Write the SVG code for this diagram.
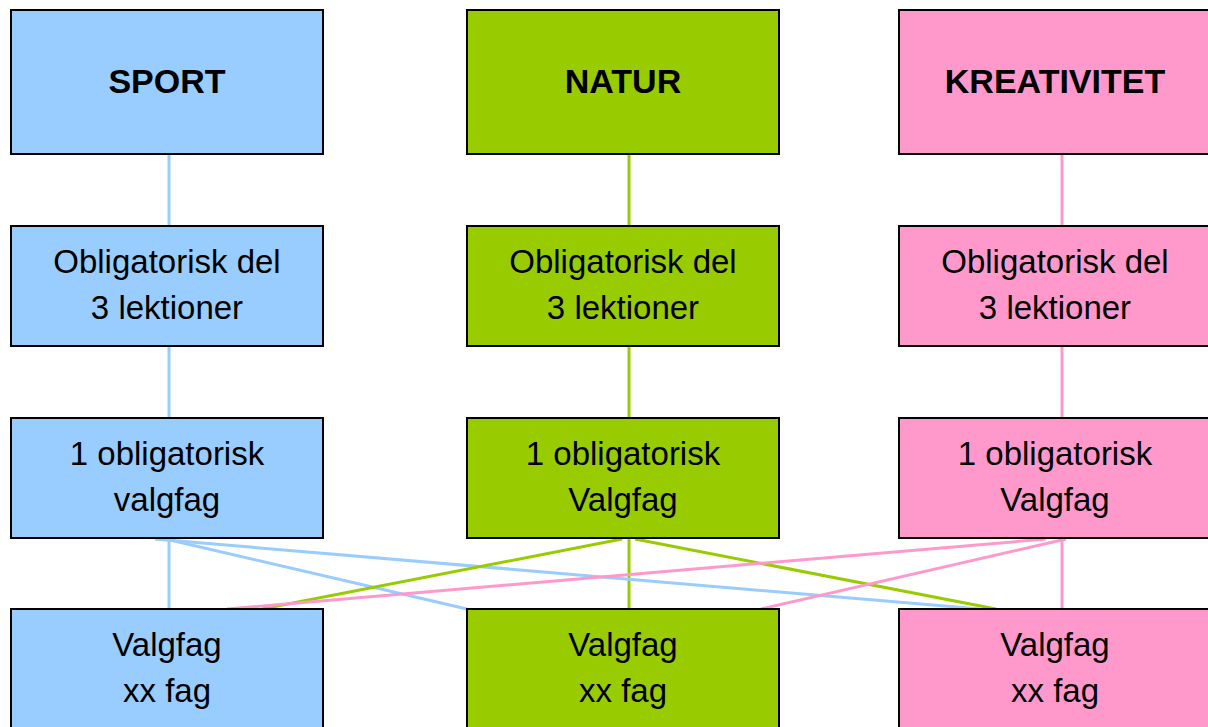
<svg xmlns="http://www.w3.org/2000/svg" width="1208" height="727" viewBox="0 0 1208 727">
<style>
rect{stroke:#000;stroke-width:2}
.b{fill:#99CCFF}.g{fill:#99CC00}.p{fill:#FF99CC}
text{font-family:"Liberation Sans",Arial,sans-serif;font-size:33px;fill:#000;text-anchor:middle}
.t{font-weight:bold;font-size:34px}
line{stroke-width:3;fill:none}
.lb{stroke:#99CCFF}.lg{stroke:#99CC00}.lp{stroke:#FF99CC}
</style>
<rect x="0" y="0" width="1208" height="727" fill="#fff" style="stroke:none"/>
<g id="connectors">
<line class="lb" x1="169" y1="154" x2="169" y2="226"/>
<line class="lb" x1="169" y1="346" x2="169" y2="418"/>
<line class="lb" x1="169" y1="538" x2="169" y2="609"/>
<line class="lg" x1="629" y1="154" x2="629" y2="226"/>
<line class="lg" x1="629" y1="346" x2="629" y2="418"/>
<line class="lg" x1="629" y1="538" x2="629" y2="609"/>
<line class="lp" x1="1062" y1="154" x2="1062" y2="226"/>
<line class="lp" x1="1062" y1="346" x2="1062" y2="418"/>
<line class="lp" x1="1062" y1="538" x2="1062" y2="609"/>
<line class="lb" x1="155" y1="539" x2="980" y2="609"/>
<line class="lb" x1="170" y1="540" x2="467" y2="609"/>
<line class="lg" x1="622" y1="539" x2="262" y2="609"/>
<line class="lg" x1="635" y1="539" x2="996" y2="609"/>
<line class="lp" x1="1046" y1="539" x2="227" y2="609"/>
<line class="lp" x1="1066" y1="539" x2="761" y2="609"/>
</g>
<g id="sport"><rect class="b" x="11" y="10" width="312" height="144"/><text class="t" x="167" y="93">SPORT</text></g>
<g id="natur"><rect class="g" x="467" y="10" width="312" height="144"/><text class="t" x="623" y="93">NATUR</text></g>
<g id="kreativitet"><rect class="p" x="899" y="10" width="312" height="144"/><text class="t" x="1055" y="93">KREATIVITET</text></g>
<g id="sport-obl"><rect class="b" x="11" y="226" width="312" height="120"/><text x="167" y="273">Obligatorisk del</text><text x="167" y="319">3 lektioner</text></g>
<g id="natur-obl"><rect class="g" x="467" y="226" width="312" height="120"/><text x="623" y="273">Obligatorisk del</text><text x="623" y="319">3 lektioner</text></g>
<g id="kreativitet-obl"><rect class="p" x="899" y="226" width="312" height="120"/><text x="1055" y="273">Obligatorisk del</text><text x="1055" y="319">3 lektioner</text></g>
<g id="sport-valg1"><rect class="b" x="11" y="418" width="312" height="120"/><text x="167" y="465">1 obligatorisk</text><text x="167" y="511">valgfag</text></g>
<g id="natur-valg1"><rect class="g" x="467" y="418" width="312" height="120"/><text x="623" y="465">1 obligatorisk</text><text x="623" y="511">Valgfag</text></g>
<g id="kreativitet-valg1"><rect class="p" x="899" y="418" width="312" height="120"/><text x="1055" y="465">1 obligatorisk</text><text x="1055" y="511">Valgfag</text></g>
<g id="sport-valgfag"><rect class="b" x="11" y="609" width="312" height="130"/><text x="167" y="656">Valgfag</text><text x="167" y="702">xx fag</text></g>
<g id="natur-valgfag"><rect class="g" x="467" y="609" width="312" height="130"/><text x="623" y="656">Valgfag</text><text x="623" y="702">xx fag</text></g>
<g id="kreativitet-valgfag"><rect class="p" x="899" y="609" width="312" height="130"/><text x="1055" y="656">Valgfag</text><text x="1055" y="702">xx fag</text></g>
</svg>
